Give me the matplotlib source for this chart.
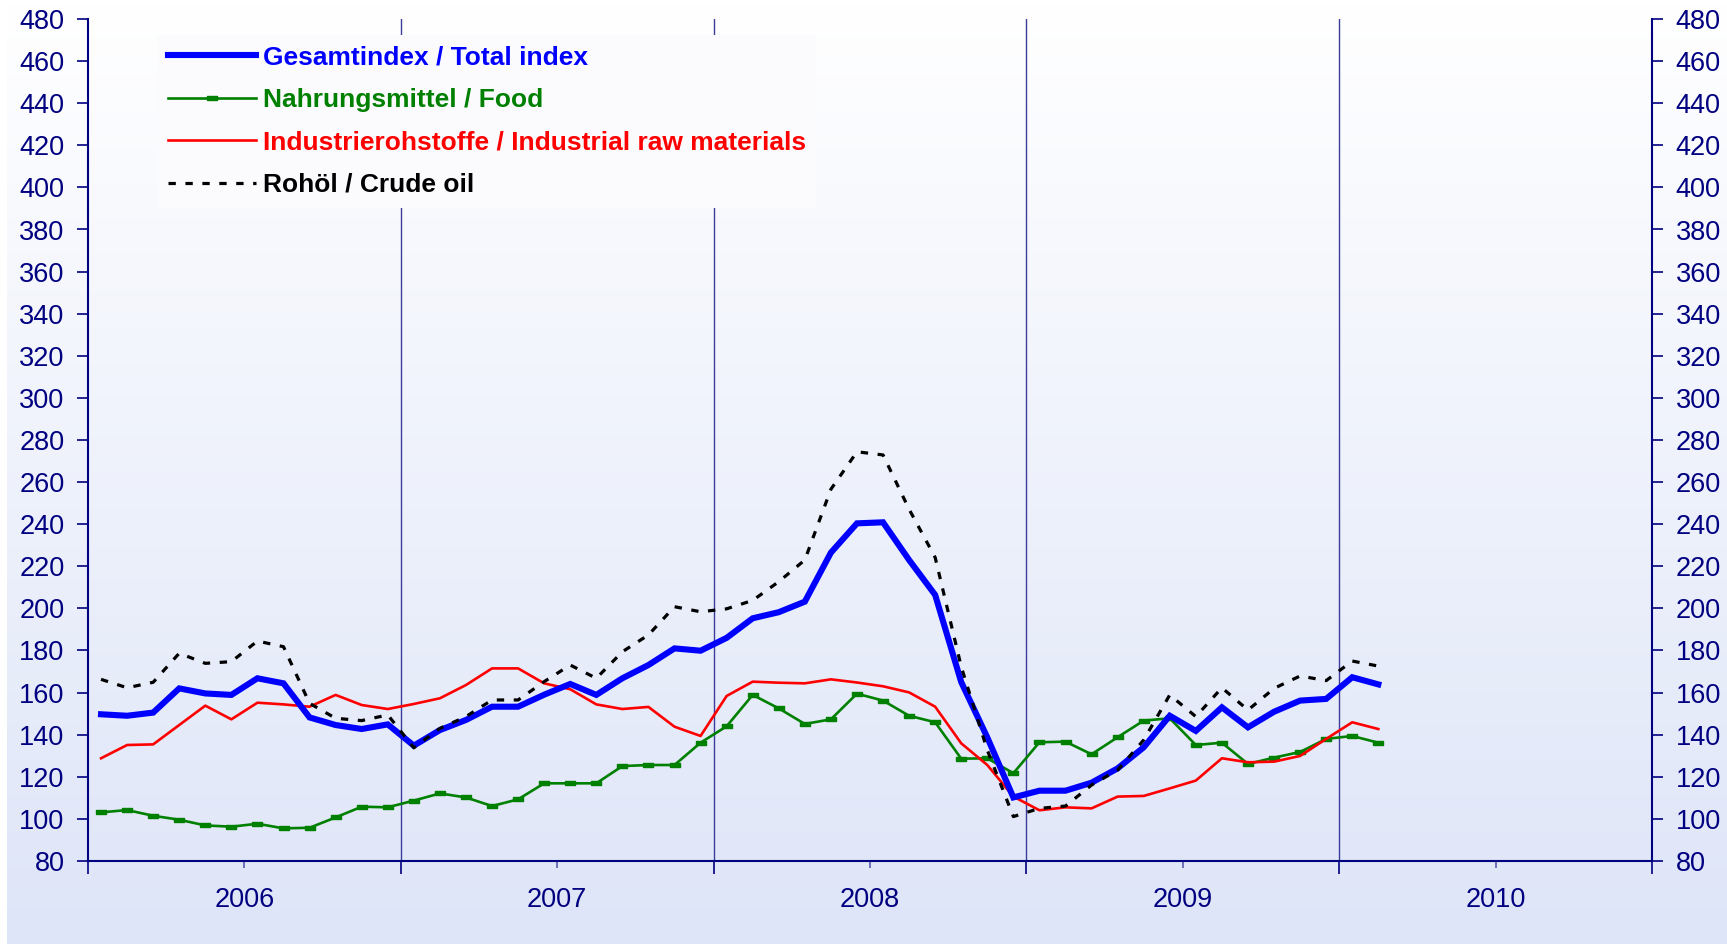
import numpy as np
import matplotlib
matplotlib.use("Agg")
import matplotlib.pyplot as plt
from matplotlib.ticker import FixedLocator, NullFormatter, FixedFormatter

plt.rcParams['font.family'] = ['Liberation Sans', 'DejaVu Sans']

# Monthly index values, January 2006 - February 2010
years = ["2006", "2007", "2008", "2009", "2010"]

total_index = [149.7, 149.0, 150.5, 162.0, 159.6, 158.9, 166.8, 164.4, 148.2, 144.6, 142.7, 144.9,
               134.8, 142.2, 147.0, 153.3, 153.3, 159.0, 164.1, 158.9, 166.8, 173.1, 181.0, 179.9,
               186.0, 195.3, 198.2, 203.2, 226.5, 240.4, 240.9, 223.0, 206.4, 165.0, 138.7, 110.2,
               113.4, 113.4, 117.2, 124.0, 134.0, 149.0, 141.8, 153.0, 143.5, 150.9, 156.2, 157.0,
               167.3, 163.9]

food = [103.1, 104.2, 101.5, 99.6, 96.9, 96.3, 97.7, 95.5, 95.8, 100.7, 105.8, 105.5,
        108.7, 112.1, 110.2, 106.1, 109.3, 116.9, 116.9, 116.9, 125.1, 125.6, 125.6, 136.2,
        144.0, 158.9, 152.5, 145.1, 147.3, 159.5, 156.2, 149.0, 145.9, 128.6, 128.8, 121.7,
        136.4, 136.7, 130.7, 138.8, 146.7, 147.8, 135.1, 136.2, 126.1, 129.1, 131.8, 138.0,
        139.4, 136.2]

industrial = [128.8, 135.1, 135.4, 144.6, 153.8, 147.3, 155.2, 154.4, 153.3, 158.9, 154.1, 152.2,
              154.6, 157.3, 163.6, 171.5, 171.5, 164.4, 161.6, 154.4, 152.2, 153.2, 143.8, 139.4,
              158.4, 165.2, 164.7, 164.4, 166.3, 164.8, 163.0, 160.1, 153.3, 135.9, 125.6, 110.6,
              104.1, 105.5, 105.0, 110.6, 110.9, 114.5, 118.2, 128.8, 126.9, 127.2, 129.9, 138.0,
              145.9, 142.7]

crude_oil = [166.3, 162.3, 164.9, 178.7, 173.9, 174.7, 184.5, 181.8, 154.9, 147.8, 146.7, 149.4,
             133.8, 143.0, 148.6, 156.5, 156.5, 165.2, 173.1, 166.8, 179.4, 187.4, 200.8, 198.4,
             199.8, 203.8, 212.7, 223.0, 256.6, 274.4, 272.9, 247.1, 224.2, 172.3, 132.7, 101.1,
             105.0, 106.1, 116.1, 123.2, 137.5, 158.9, 148.6, 162.3, 151.7, 162.0, 167.9, 165.7,
             175.0, 172.6]

labels = ["Gesamtindex / Total index",
          "Nahrungsmittel / Food",
          "Industrierohstoffe / Industrial raw materials",
          "Rohöl / Crude oil"]

NAVY = "#000080"
W, H = 1727, 944
fig = plt.figure(figsize=(W / 100, H / 100), dpi=100)
fig.patch.set_facecolor("white")

# vertical background gradient (white at top, pale lavender at bottom)
bg = fig.add_axes([7 / W, 0, 1 - 7 / W, 1], zorder=-10)
top = np.array([255, 255, 255]) / 255
bot = np.array([222, 229, 248]) / 255
t = np.linspace(0, 1, 256)[:, None, None]
grad = top * (1 - t) + bot * t
bg.imshow(grad, aspect="auto", extent=[0, 1, 0, 1], origin="upper")
bg.set_axis_off()

ax = fig.add_axes([88 / W, 1 - 861 / H, (1652 - 88) / W, (861 - 19) / H])
ax.patch.set_alpha(0)

x = np.arange(len(total_index)) + 0.5

# year separators
for xv in range(12, 60, 12):
    ax.axvline(xv, color="#3c3c9c", lw=1.0, zorder=1)

rect_marker = [(-1, -0.45), (1, -0.45), (1, 0.45), (-1, 0.45), (-1, -0.45)]

ax.plot(x, total_index, color="#0000ff", lw=4.4, solid_joinstyle="miter", zorder=5, label=labels[0])
ax.plot(x, food, color="#008000", lw=1.9, marker=rect_marker, ms=7.5, mec="#008000",
        mfc="#008000", zorder=4, label=labels[1])
ax.plot(x, industrial, color="#ff0000", lw=1.9, zorder=4, label=labels[2])
ax.plot(x, crude_oil, color="black", lw=2.3, ls=(0, (2.3, 3.0)), zorder=6, label=labels[3])

ax.set_xlim(0, 60)
ax.set_ylim(80, 480)
ax.set_yticks(np.arange(80, 481, 20))

ax.xaxis.set_major_locator(FixedLocator(np.arange(0, 61, 12)))
ax.xaxis.set_major_formatter(NullFormatter())
ax.xaxis.set_minor_locator(FixedLocator(np.arange(6, 60, 12)))
ax.xaxis.set_minor_formatter(FixedFormatter(years))

ax.tick_params(axis="x", which="major", direction="out", length=9, width=1.2, color=NAVY)
ax.tick_params(axis="x", which="minor", direction="out", length=5, width=1.2, color="#5a5ab0",
               labelsize=19.5, labelcolor=NAVY, pad=14)
ax.tick_params(axis="y", which="major", direction="out", length=8, width=1.2, color=NAVY,
               labelsize=19.5, labelcolor=NAVY, pad=9, left=True, right=True,
               labelleft=True, labelright=True)

for side in ("left", "right", "bottom"):
    ax.spines[side].set_color(NAVY)
    ax.spines[side].set_linewidth(1.5)
ax.spines["top"].set_visible(False)

leg = ax.legend(loc="upper left", bbox_to_anchor=(157 / W, 1 - 35 / H), bbox_transform=fig.transFigure,
                prop={"weight": "bold", "size": 19}, labelcolor="linecolor",
                frameon=True, fancybox=False, facecolor="#fbfbfe", edgecolor="none", framealpha=1,
                handlelength=3.35, handletextpad=0.25, labelspacing=0.7, borderpad=0.4,
                borderaxespad=0, numpoints=1)
leg.set_zorder(10)

fig.savefig("out.png", dpi=100)
